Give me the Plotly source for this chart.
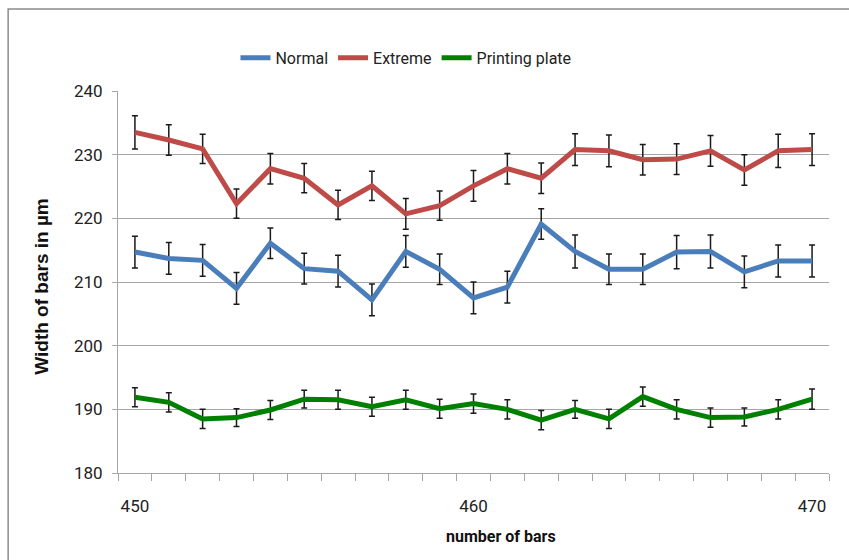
import plotly.graph_objects as go

# Bar counts along the x axis
bars = list(range(450, 471))

# Measured bar widths (µm) and their error margins
normal = [214.7, 213.7, 213.4, 209.0, 216.1, 212.1, 211.7, 207.2, 214.8, 212.0, 207.5,
          209.2, 219.1, 214.8, 212.0, 212.0, 214.7, 214.8, 211.6, 213.3, 213.3]
normal_err = [2.5, 2.5, 2.5, 2.5, 2.4, 2.4, 2.5, 2.5, 2.5, 2.4, 2.5,
              2.5, 2.4, 2.6, 2.4, 2.4, 2.6, 2.6, 2.5, 2.5, 2.5]

extreme = [233.5, 232.3, 230.9, 222.3, 227.8, 226.3, 222.1, 225.1, 220.7, 222.0, 225.1,
           227.8, 226.3, 230.8, 230.6, 229.2, 229.3, 230.6, 227.6, 230.6, 230.8]
extreme_err = [2.6, 2.4, 2.3, 2.3, 2.4, 2.3, 2.3, 2.3, 2.4, 2.3, 2.4,
               2.4, 2.4, 2.5, 2.5, 2.4, 2.4, 2.4, 2.4, 2.6, 2.5]

plate = [191.9, 191.1, 188.5, 188.7, 189.9, 191.6, 191.5, 190.4, 191.5, 190.1, 190.9,
         190.0, 188.3, 190.0, 188.5, 192.0, 190.0, 188.7, 188.8, 190.0, 191.6]
plate_err = [1.5, 1.5, 1.5, 1.4, 1.5, 1.4, 1.5, 1.5, 1.5, 1.5, 1.5,
             1.5, 1.5, 1.4, 1.5, 1.5, 1.5, 1.5, 1.4, 1.5, 1.6]

series = [
    ("Normal", normal, normal_err, "#4A7EBB"),
    ("Extreme", extreme, extreme_err, "#BE4B48"),
    ("Printing plate", plate, plate_err, "#008000"),
]

NARROW = "Liberation Sans Narrow, Arial Narrow, Roboto, sans-serif"

fig = go.Figure()
for name, vals, errs, color in series:
    fig.add_trace(go.Scatter(
        x=bars, y=vals, name=name, mode="lines",
        line=dict(color=color, width=5),
        error_y=dict(type="data", array=errs, visible=True,
                     color="#1a1a1a", thickness=1.5, width=3),
    ))

fig.update_layout(
    width=849, height=560,
    margin=dict(l=118, r=20, t=91, b=87),
    paper_bgcolor="white", plot_bgcolor="white",
    showlegend=True,
    legend=dict(orientation="h", x=0.405, xanchor="center", y=1.087, yanchor="middle",
                font=dict(family=NARROW, size=16, color="#222222"),
                itemwidth=30, tracegroupgap=0, bgcolor="rgba(0,0,0,0)"),
    xaxis=dict(
        range=[449.5, 470.5], tickvals=[450, 460, 470], ticktext=["450", "460", "470"],
        ticks="", showgrid=False, zeroline=False,
        showline=True, linecolor="#a6a6a6", linewidth=1,
        tickfont=dict(family=NARROW, size=17, color="#222222"),
        ticklabelstandoff=18,
        minor=dict(tick0=449.5, dtick=1, ticks="outside", ticklen=7,
                   tickcolor="#a6a6a6", tickwidth=1, showgrid=False),
    ),
    yaxis=dict(
        range=[180, 240], dtick=10, showgrid=True, gridcolor="#a6a6a6", gridwidth=1,
        zeroline=False, showline=True, linecolor="#a6a6a6", linewidth=1,
        ticks="outside", ticklen=5, tickcolor="#a6a6a6",
        tickfont=dict(family=NARROW, size=17, color="#222222"),
        ticklabelstandoff=6,
    ),
    shapes=[
        # chart frame (top and left edges visible)
        dict(type="rect", xref="paper", yref="paper",
             x0=-0.1545, x1=1.2, y0=-0.5, y1=1.2145,
             line=dict(color="#8c8c8c", width=1.5), fillcolor="rgba(0,0,0,0)", layer="below"),
    ],
    annotations=[
        dict(text="<b>Width of bars in µm</b>", textangle=-90, xref="paper", yref="paper",
             x=-0.107, y=0.49, xanchor="center", yanchor="middle", showarrow=False,
             font=dict(family="Liberation Sans, Arial, sans-serif", size=19, color="#111111")),
        dict(text="<b>number of bars</b>", xref="paper", yref="paper",
             x=0.538, y=-0.167, xanchor="center", yanchor="middle", showarrow=False,
             font=dict(family=NARROW, size=16, color="#111111")),
    ],
)

fig.write_html("out.html")
